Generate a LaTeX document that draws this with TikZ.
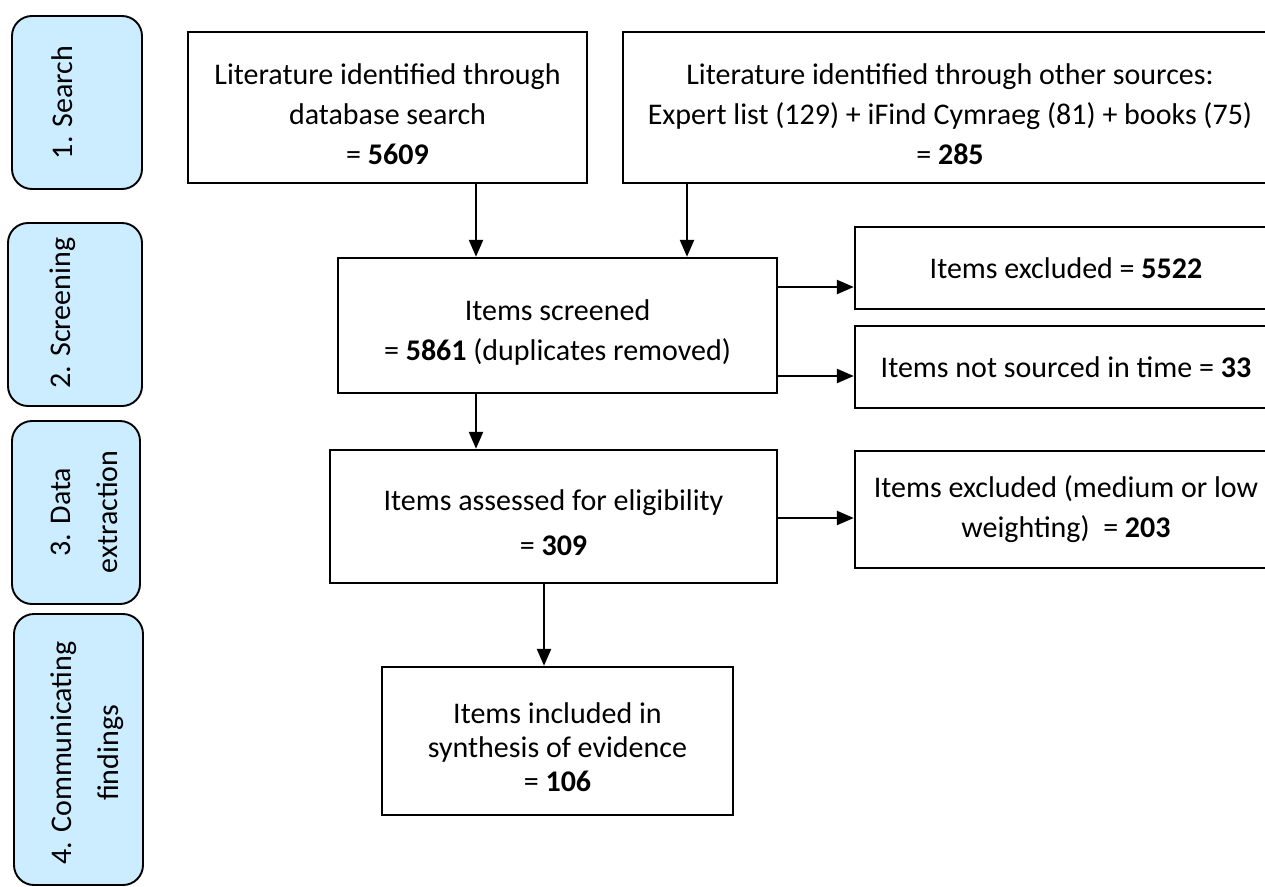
\documentclass[tikz,border=0pt]{standalone}
\usepackage{fontspec}
\setmainfont{Carlito}
\usetikzlibrary{arrows.meta}
\definecolor{stageblue}{RGB}{204,236,255}
\newcommand{\lowr}{\rule{0pt}{34pt}}

\begin{document}
\begin{tikzpicture}[x=1pt, y=-1pt,
	box/.style={draw=black, line width=2.4pt, align=center, inner sep=0pt, font=\fontsize{30}{40}\selectfont},
	stage/.style={draw=black, line width=1.9pt, fill=stageblue, rounded corners=20pt, inner sep=0pt},
	stagetext/.style={rotate=90, align=center, inner sep=0pt, font=\fontsize{30}{47}\selectfont},
	arr/.style={line width=2.4pt, -{Triangle[length=17pt,width=14pt]}}]
	\path[use as bounding box, clip] (0,0) rectangle (1265,886);

	\node[stage, minimum width=130, minimum height=173] (s1) at (77,102.5) {};
	\node[stage, minimum width=134, minimum height=183] (s2) at (75,314.5) {};
	\node[stage, minimum width=128, minimum height=183] (s3) at (76,512.5) {};
	\node[stage, minimum width=129, minimum height=271] (s4) at (78.5,749.5) {};
	\node[stagetext] (t1) at (62,102.5) {1. Search};
	\node[stagetext] (t2) at (63,313) {2. Screening};
	\node[stagetext] (t3) at (84.7,512) {3. Data\\extraction};
	\node[stagetext] (t4) at (87.7,753) {4. Communicating\\findings};

	\node[box, minimum width=399, minimum height=151] (db) at (387.5,107.5) {\lowr Literature identified through\\database search\\= \textbf{5609}};
	\node[box, minimum width=654, minimum height=151] (other) at (950,107.5) {\lowr Literature identified through other sources:\\Expert list (129) + iFind Cymraeg (81) + books (75)\\= \textbf{285}};
	\node[box, minimum width=439, minimum height=135] (screen) at (557.5,325.5) {\lowr Items screened\\= \textbf{5861} (duplicates removed)};
	\node[box, minimum width=422, minimum height=82] (excl) at (1066,268) {Items excluded = \textbf{5522}};
	\node[box, minimum width=422, minimum height=82] (notsrc) at (1066,367) {Items not sourced in time = \textbf{33}};
	\node[box, minimum width=447, minimum height=133, font=\fontsize{30}{45}\selectfont] (assess) at (553.5,516.5) {\lowr Items assessed for eligibility\\= \textbf{309}};
	\node[box, minimum width=422, minimum height=117] (weight) at (1066,509.5) {Items excluded (medium or low\\weighting)\ \ = \textbf{203}};
	\node[box, minimum width=351, minimum height=148, font=\fontsize{30}{34}\selectfont] (incl) at (557.5,741) {\lowr Items included in\\synthesis of evidence\\= \textbf{106}};

	\coordinate (x1) at (476,0);
	\coordinate (x2) at (687,0);
	\coordinate (x3) at (544,0);
	\coordinate (y1) at (0,287);
	\coordinate (y2) at (0,376);
	\coordinate (y3) at (0,518);

	\draw[arr] (db.south -| x1) -- (screen.north -| x1);
	\draw[arr] (other.south -| x2) -- (screen.north -| x2);
	\draw[arr] (screen.south -| x1) -- (assess.north -| x1);
	\draw[arr] (assess.south -| x3) -- (incl.north -| x3);
	\draw[arr] (screen.east |- y1) -- (excl.west |- y1);
	\draw[arr] (screen.east |- y2) -- (notsrc.west |- y2);
	\draw[arr] (assess.east |- y3) -- (weight.west |- y3);
\end{tikzpicture}
\end{document}
